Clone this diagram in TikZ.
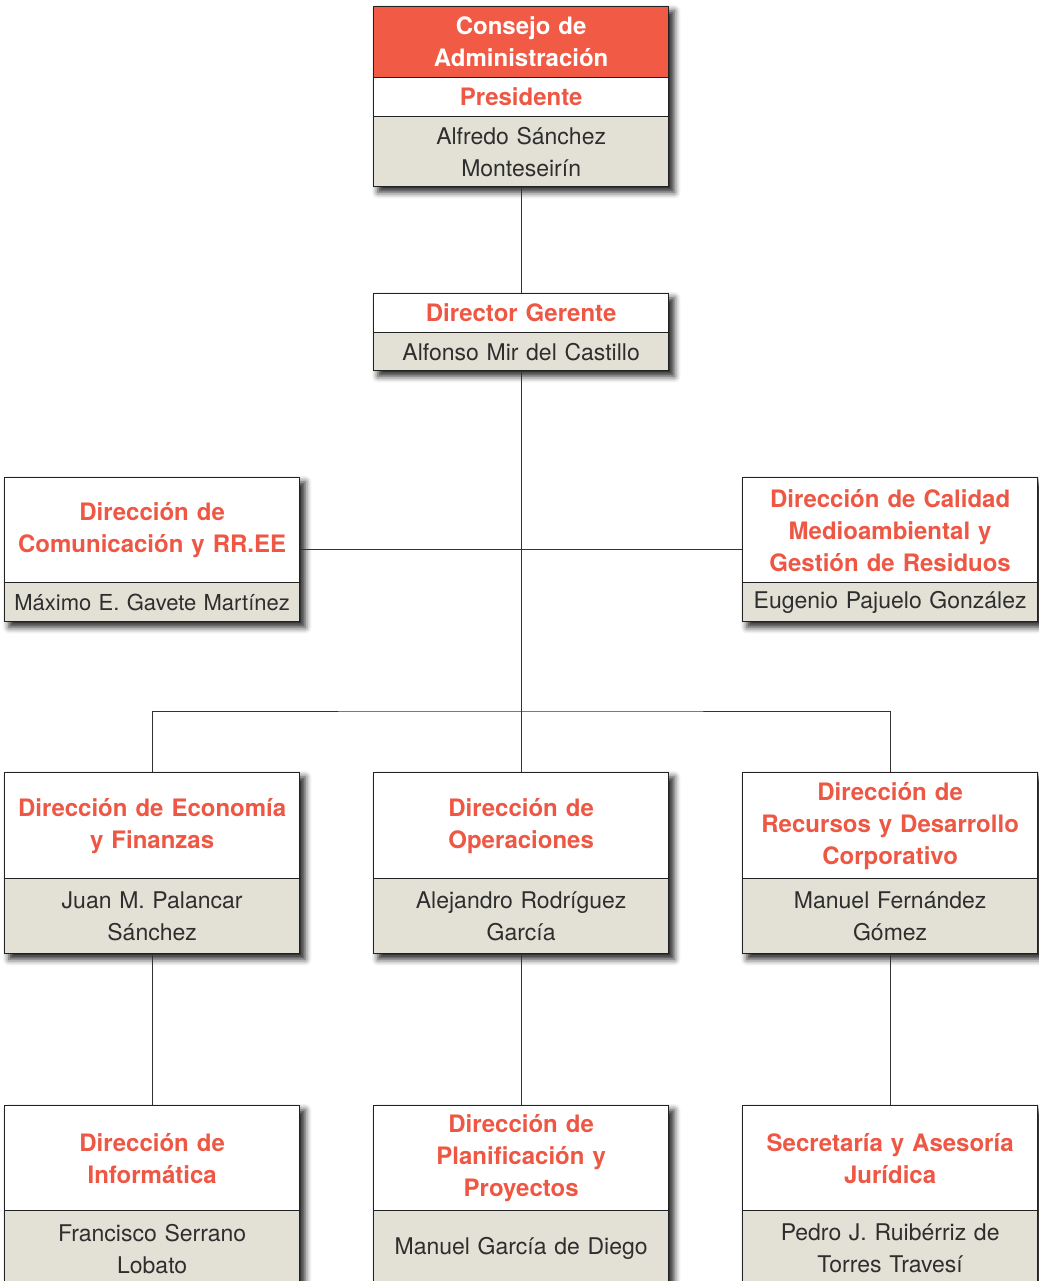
\documentclass[tikz,border=0pt]{standalone}
\usepackage{fontspec}
\setmainfont{TeX Gyre Heros}
\usetikzlibrary{shadows.blur,fit,backgrounds}
\definecolor{redfill}{HTML}{F15A45}
\definecolor{redtext}{HTML}{EE5744}
\definecolor{namefill}{HTML}{E3E1D6}
\definecolor{nametext}{HTML}{2E2E2E}
\definecolor{border}{HTML}{222222}
\definecolor{linec}{HTML}{333333}
\begin{document}
\begin{tikzpicture}[x=1pt,y=-1pt,
  sec/.style={draw=border, line width=1.3pt, inner ysep=0pt, inner xsep=2.5pt,
    text width=290pt, align=center, anchor=north west},
  hdr/.style={sec, fill=white, text=redtext, font=\fontsize{24}{32}\selectfont\bfseries},
  redhdr/.style={sec, fill=redfill, text=white, font=\fontsize{24}{32}\selectfont\bfseries},
  nm/.style={sec, fill=namefill, text=nametext, font=\fontsize{23}{32}\selectfont},
  shadowbox/.style={fill=white, inner sep=0pt,
    blur shadow={shadow xshift=5pt, shadow yshift=-5pt, shadow blur radius=6pt, shadow opacity=85}},
  conn/.style={draw=linec, line width=0.9pt}
]
\useasboundingbox (0,0) rectangle (1038,1281);
\clip (0,0) rectangle (1038,1281);

\coordinate (j1) at (520,549);
\coordinate (j2) at (520,711);

% top
\node[redhdr, minimum height=71pt] (cons) at (373,6) {Consejo de\\Administración};
\node[hdr, minimum height=39pt] (pres) at (373,77) {Presidente};
\node[nm, minimum height=70pt] (alfredo) at (373,116) {Alfredo Sánchez\\Monteseirín};

% director gerente
\node[hdr, minimum height=39pt] (dg) at (373,293) {Director Gerente};
\node[nm, minimum height=38pt] (alfonso) at (373,332) {Alfonso Mir del Castillo};

% side boxes
\node[hdr, minimum height=105pt] (com) at (4,477) {Dirección de\\Comunicación y RR.EE};
\node[nm, minimum height=39pt, font=\fontsize{22}{32}\selectfont] (maximo) at (4,582) {Máximo E. Gavete Martínez};
\node[hdr, minimum height=105pt] (cal) at (742,477) {Dirección de Calidad\\Medioambiental y\\Gestión de Residuos};
\node[nm, minimum height=39pt] (eugenio) at (742,582) {Eugenio Pajuelo González};

% row 3
\node[hdr, minimum height=106pt] (eco) at (4,772) {Dirección de Economía\\y Finanzas};
\node[nm, minimum height=75pt] (juan) at (4,878) {Juan M. Palancar\\Sánchez};
\node[hdr, minimum height=106pt] (ope) at (373,772) {Dirección de\\Operaciones};
\node[nm, minimum height=75pt] (alejandro) at (373,878) {Alejandro Rodríguez\\García};
\node[hdr, minimum height=106pt] (rec) at (742,772) {Dirección de\\Recursos y Desarrollo\\Corporativo};
\node[nm, minimum height=75pt] (manuelf) at (742,878) {Manuel Fernández\\Gómez};

% row 4
\node[hdr, minimum height=105pt] (inf) at (4,1105) {Dirección de\\Informática};
\node[nm, minimum height=76pt] (francisco) at (4,1210) {Francisco Serrano\\Lobato};
\node[hdr, minimum height=105pt] (pla) at (373,1105) {Dirección de\\Planificación y\\Proyectos};
\node[nm, minimum height=76pt] (manuelg) at (373,1210) {Manuel García de Diego};
\node[hdr, minimum height=105pt] (sec) at (742,1105) {Secretaría y Asesoría\\Jurídica};
\node[nm, minimum height=76pt] (pedro) at (742,1210) {Pedro J. Ruibérriz de\\Torres Travesí};

% shadows behind whole boxes
\begin{scope}[on background layer]
\node[shadowbox, fit=(cons)(alfredo)] (s1) {};
\node[shadowbox, fit=(dg)(alfonso)] (s2) {};
\node[shadowbox, fit=(com)(maximo)] (s3) {};
\node[shadowbox, fit=(cal)(eugenio)] (s4) {};
\node[shadowbox, fit=(eco)(juan)] (s5) {};
\node[shadowbox, fit=(ope)(alejandro)] (s6) {};
\node[shadowbox, fit=(rec)(manuelf)] (s7) {};
\node[shadowbox, fit=(inf)(francisco)] (s8) {};
\node[shadowbox, fit=(pla)(manuelg)] (s9) {};
\node[shadowbox, fit=(sec)(pedro)] (s10) {};
\end{scope}

% connectors
\draw[conn] (alfredo.south) -- (dg.north);
\draw[conn] (alfonso.south) -- (ope.north);
\draw[conn] (com.east |- j1) -- (cal.west |- j1);
\draw[conn] (eco.north) |- (j2) -| (rec.north);
\draw[conn] (juan.south) -- (inf.north);
\draw[conn] (alejandro.south) -- (pla.north);
\draw[conn] (manuelf.south) -- (sec.north);
\end{tikzpicture}
\end{document}
